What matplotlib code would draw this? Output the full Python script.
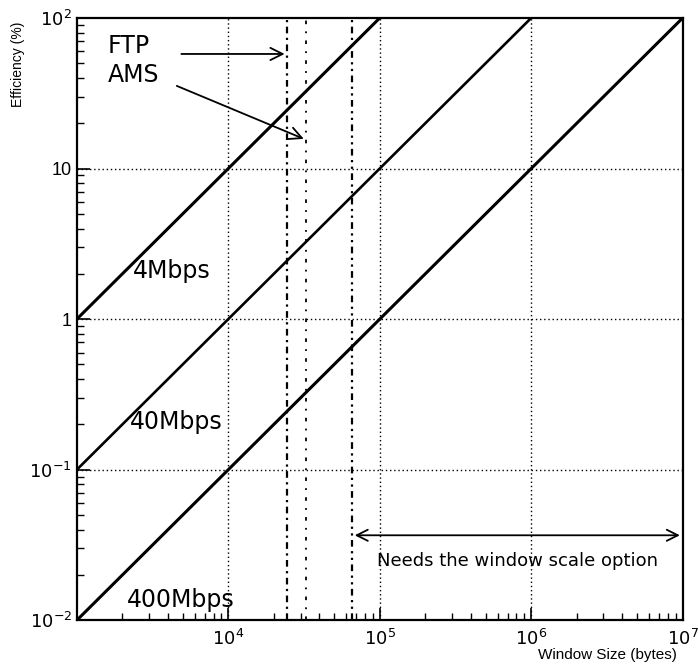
import numpy as np
import matplotlib.pyplot as plt
from matplotlib.ticker import FixedLocator, LogLocator, NullFormatter

plt.rcParams['font.family'] = ['Liberation Sans', 'DejaVu Sans']

# window sizes (bytes) and efficiency (%) for each link speed
window = [1e3, 1e4, 1e5, 1e6, 1e7]
eff_4mbps = [1.0, 10.0, 100.0, 1000.0, 10000.0]
eff_40mbps = [0.1, 1.0, 10.0, 100.0, 1000.0]
eff_400mbps = [0.01, 0.1, 1.0, 10.0, 100.0]
speed_labels = ['4Mbps', '40Mbps', '400Mbps']

# default window sizes
ftp_window = 24576
ams_window = 32768
max_window = 65535

fig = plt.figure(figsize=(6.98, 6.67), dpi=100)
ax = fig.add_axes([0.110, 0.070, 0.868, 0.903])
ax.set_xscale('log')
ax.set_yscale('log')
ax.set_xlim(1e3, 1e7)
ax.set_ylim(1e-2, 1e2)

# grid (dotted)
for gx in [1e4, 1e5, 1e6]:
    ax.axvline(gx, color='black', ls=(0, (1, 2)), lw=1.0)
for gy in [0.1, 1, 10]:
    ax.axhline(gy, color='black', ls=(0, (1, 2)), lw=1.0)

ax.plot(window, eff_4mbps, color='black', lw=2.2)
ax.plot(window, eff_40mbps, color='black', lw=1.9)
ax.plot(window, eff_400mbps, color='black', lw=2.2)

ax.axvline(ftp_window, color='black', ls=(0, (3, 2, 1, 2)), lw=1.6)
ax.axvline(ams_window, color='black', ls=(0, (2, 4, 1, 4)), lw=1.3)
ax.axvline(max_window, color='black', ls=(0, (3, 2, 1, 2, 1, 2)), lw=1.6)

lab_font = dict(fontsize=17, family=['DejaVu Sans'], va='center')
ax.text(2350, 2.1, speed_labels[0], **lab_font)
ax.text(2240, 0.207, speed_labels[1], **lab_font)
ax.text(2140, 0.0136, speed_labels[2], **lab_font)

ax.text(1600, 65, 'FTP', **lab_font)
ax.text(1600, 41.8, 'AMS', **lab_font)
ax.annotate('', xy=(ftp_window, 57.7), xytext=(4700, 57.7),
            arrowprops=dict(arrowstyle='->', color='black', lw=1.3,
                            mutation_scale=22))
ax.annotate('', xy=(ams_window, 15.5), xytext=(4400, 36),
            arrowprops=dict(arrowstyle='->', color='black', lw=1.3,
                            mutation_scale=22))

ax.annotate('', xy=(max_window, 0.0367), xytext=(1e7, 0.0367),
            arrowprops=dict(arrowstyle='<->', color='black', lw=1.3,
                            mutation_scale=20))
ax.text(8.15e5, 0.0247, 'Needs the window scale option', fontsize=13,
        family=['DejaVu Sans'], ha='center', va='center')

# ticks
ax.xaxis.set_major_locator(FixedLocator([1e3, 1e4, 1e5, 1e6, 1e7]))
ax.set_xticklabels(['', '$10^4$', '$10^5$', '$10^6$', '$10^7$'], fontsize=13)
ax.xaxis.set_minor_locator(LogLocator(base=10, subs=np.arange(2, 10)))
ax.xaxis.set_minor_formatter(NullFormatter())
ax.yaxis.set_major_locator(FixedLocator([1e-2, 1e-1, 1, 10, 100]))
ax.set_yticklabels(['$10^{-2}$', '$10^{-1}$', '1', '10', '$10^2$'], fontsize=13)
ax.yaxis.set_minor_locator(LogLocator(base=10, subs=np.arange(2, 10)))
ax.yaxis.set_minor_formatter(NullFormatter())
ax.tick_params(which='major', direction='in', length=9, width=1.2, top=False, right=False)
ax.tick_params(which='minor', direction='in', length=5, width=1.0, top=False, right=False)
ax.tick_params(axis='x', which='major', pad=6)
for s in ax.spines.values():
    s.set_linewidth(1.6)

fig.text(0.026, 0.903, 'Efficiency (%)', rotation=90, fontsize=10, ha='center', va='center')
fig.text(0.97, 0.008, 'Window Size (bytes)', fontsize=11, ha='right', va='bottom')

fig.savefig('out.png', dpi=100)
plt.close()
